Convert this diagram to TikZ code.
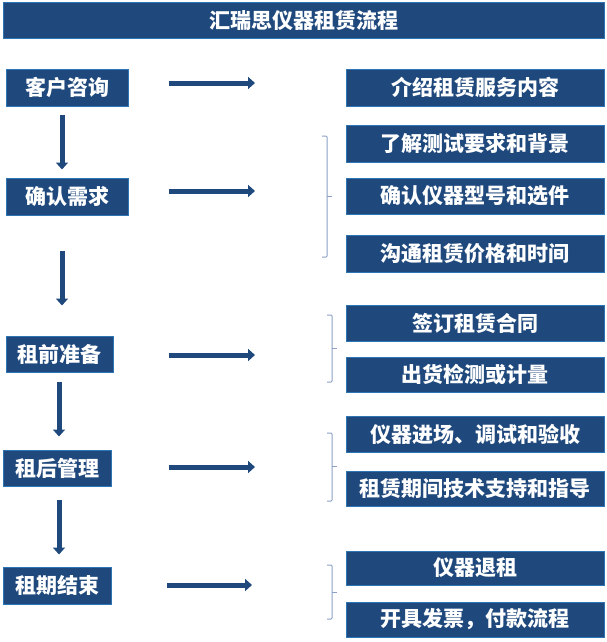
\documentclass[tikz,border=0pt]{standalone}
\usepackage{fontspec}
\newfontfamily\cjk{Noto Sans CJK SC}
\usetikzlibrary{arrows.meta}
\definecolor{boxfill}{RGB}{31,73,125}
\definecolor{boxline}{RGB}{46,117,182}
\definecolor{bracecol}{RGB}{138,160,196}
\begin{document}
\begin{tikzpicture}[x=1pt,y=-1pt,
  box/.style={draw=boxline, line width=1pt, fill=boxfill, text=white,
    font=\cjk\bfseries\fontsize{21}{25}\selectfont, inner sep=0pt, minimum height=36pt},
  lbox/.style={box, minimum width=122pt},
  rbox/.style={box, minimum width=258pt},
  flow/.style={draw=boxfill, line width=5pt, -{Triangle[width=12pt,length=7pt]}},
  bracket/.style={draw=bracecol, line width=1pt, rounded corners=1pt}]
\useasboundingbox (0,0) rectangle (607,642);

\node[box, minimum width=601pt] (T) at (303.5,21) {汇瑞思仪器租赁流程};

\node[lbox, minimum height=37pt] (L1) at (67,87.5) {客户咨询};
\node[lbox, minimum height=37pt] (L2) at (67,196.5) {确认需求};
\node[lbox, minimum width=107pt] (L3) at (59.5,354) {租前准备};
\node[lbox, minimum width=108pt] (L4) at (57,468) {租后管理};
\node[lbox, minimum width=108pt, minimum height=37pt] (L5) at (57,585.5) {租期结束};

\node[rbox, minimum height=37pt] (R1) at (475,87.5) {介绍租赁服务内容};
\node[rbox, minimum height=37pt] (R2a) at (475,143.5) {了解测试要求和背景};
\node[rbox] (R2b) at (475,196) {确认仪器型号和选件};
\node[rbox, minimum height=37pt] (R2c) at (475,253.5) {沟通租赁价格和时间};
\node[rbox] (R3a) at (475,323) {签订租赁合同};
\node[rbox, minimum height=35pt] (R3b) at (475,374.5) {出货检测或计量};
\node[rbox] (R4a) at (475,434) {仪器进场、调试和验收};
\node[rbox, minimum height=35pt] (R4b) at (475,488.5) {租赁期间技术支持和指导};
\node[rbox, minimum height=34pt] (R5a) at (475,568) {仪器退租};
\node[rbox, minimum height=35pt] (R5b) at (475,619.5) {开具发票，付款流程};

% vertical flow
\draw[flow, shorten <=8pt, shorten >=8pt] ([xshift=-5pt]L1.south) -- ([xshift=-5pt]L2.north);
\draw[flow, shorten <=35pt, shorten >=30pt] ([xshift=-5pt]L2.south) -- ([xshift=2.5pt]L3.north);
\draw[flow, shorten <=9pt, shorten >=13pt] ([xshift=-0.5pt]L3.south) -- ([xshift=2pt]L4.north);
\draw[flow, shorten <=13pt, shorten >=12pt] ([xshift=2pt]L4.south) -- ([xshift=2pt]L5.north);

% horizontal arrows
\coordinate (E1) at (255,83);
\coordinate (E2) at (255,191);
\coordinate (E3) at (255,355);
\coordinate (E4) at (255,467);
\coordinate (E5) at (252,585);
\draw[flow, shorten <=40pt] (L1.east |- E1) -- (E1);
\draw[flow, shorten <=40pt] (L2.east |- E2) -- (E2);
\draw[flow, shorten <=55pt] (L3.east |- E3) -- (E3);
\draw[flow, shorten <=57pt] (L4.east |- E4) -- (E4);
\draw[flow, shorten <=55pt] (L5.east |- E5) -- (E5);

% brackets
\draw[bracket] (322,136) -- (327,136) -- (327,257) -- (322,257);
\draw[bracket] (327,196) -- (332,196);
\draw[bracket] (327,315) -- (332,315) -- (332,382) -- (327,382);
\draw[bracket] (332,348) -- (337,348);
\draw[bracket] (327,433) -- (332,433) -- (332,501) -- (327,501);
\draw[bracket] (332,466) -- (337,466);
\draw[bracket] (327,565) -- (332,565) -- (332,619) -- (327,619);
\draw[bracket] (332,592) -- (337,592);
\end{tikzpicture}
\end{document}
